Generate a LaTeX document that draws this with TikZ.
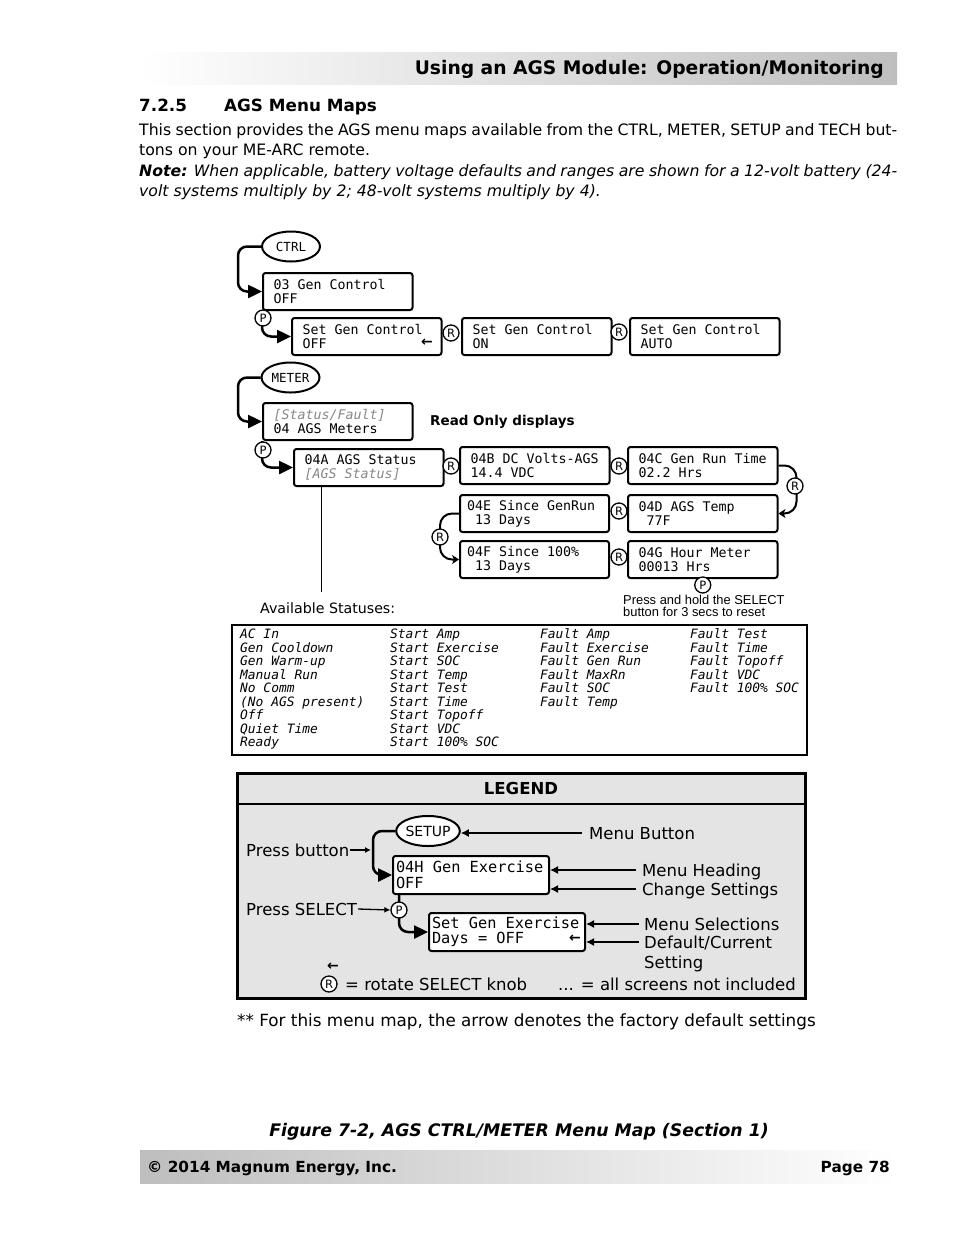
\documentclass[tikz,border=0pt]{standalone}
\usepackage{fontspec}
\setmainfont{DejaVu Sans}
\newfontfamily\menufont{DejaVu Sans Mono}
\newfontfamily\notefont{Liberation Sans}
\usetikzlibrary{positioning,arrows.meta,shapes.geometric,calc}
\definecolor{bargray}{RGB}{190,190,190}
\definecolor{legendgray}{RGB}{228,228,228}
\definecolor{dimtext}{RGB}{135,135,135}
\tikzset{
  menubox/.style={draw, line width=2pt, rounded corners=2.5pt, fill=white, anchor=north west,
    minimum width=149pt, minimum height=37pt, inner xsep=10.5pt, inner ysep=0pt,
    text width=128.5pt, align=flush left, font=\menufont\fontsize{13.3}{14}\selectfont,
    execute at begin node={\spaceskip=0pt\xspaceskip=0pt}},
  legendbox/.style={menubox, minimum width=156pt, minimum height=38pt, inner xsep=3pt,
    text width=150pt, font=\menufont\fontsize{15.3}{15.5}\selectfont},
  menubutton/.style={ellipse, draw, line width=2pt, fill=white, inner sep=0pt,
    minimum width=58pt, minimum height=30pt, font=\menufont\fontsize{12.5}{13}\selectfont},
  knob/.style={circle, draw, line width=1.3pt, fill=white, inner sep=0pt, minimum size=16pt,
    font=\fontsize{11.5}{11.5}\selectfont},
  menuflow/.style={line width=2.5pt, rounded corners=9pt, -{Triangle[length=14pt,width=13pt]}},
  knobflow/.style={line width=2pt, rounded corners=12pt, -{Stealth[length=7pt,width=9pt,inset=2pt]}},
  callout/.style={line width=1.4pt, -{Latex[length=8pt,width=8pt]}},
  smallcallout/.style={line width=1.3pt, -{Latex[length=6pt,width=6pt]}},
  status/.style={anchor=base west, inner sep=0pt, font=\menufont\itshape\fontsize{12.9}{13}\selectfont},
  lbl/.style={anchor=base west, inner sep=1pt, text height=12pt, text depth=0pt,
    font=\fontsize{16.5}{18}\selectfont},
  bodytext/.style={anchor=base west, inner sep=0pt, font=\fontsize{15.7}{19}\selectfont},
  defmark/.style={inner sep=0pt, font=\bfseries\fontsize{14}{14}\selectfont},
}

\begin{document}
\begin{tikzpicture}[x=1pt,y=-1pt]
  \fill[white] (0,0) rectangle (954,1235);
  \useasboundingbox (0,0) rectangle (954,1235);

  % page head
  \shade[left color=white, right color=bargray] (140,52) rectangle (897,84);
  \node[anchor=base east, inner sep=0pt, font=\bfseries\fontsize{18.7}{22}\selectfont] (pagehead) at (884,74) {Using an AGS Module: Operation/Monitoring};
  \node[anchor=base west, inner sep=0pt, font=\bfseries\fontsize{16.8}{20}\selectfont] (secnum) at (139,111) {7.2.5};
  \node[anchor=base west, inner sep=0pt, font=\bfseries\fontsize{16.8}{20}\selectfont] (sectitle) at (224,111) {AGS Menu Maps};
  \node[bodytext] (intro1) at (139,135) {\makebox[758pt][s]{This section provides the AGS menu maps available from the CTRL, METER, SETUP and TECH but-}};
  \node[bodytext] (intro2) at (139,155) {tons on your ME-ARC remote.};
  \node[bodytext] (note1) at (139,176) {\makebox[758pt][s]{\textbf{\textit{Note:}} \textit{When applicable, battery voltage defaults and ranges are shown for a 12-volt battery (24-}}};
  \node[bodytext] (note2) at (139,196) {\textit{volt systems multiply by 2; 48-volt systems multiply by 4).}};

  % CTRL menu
  \node[menubutton] (ctrl) at (291,246.5) {CTRL};
  \node[menubox] (g03) at (262,272) {03 Gen Control\\OFF};
  \node[menubox] (sgcoff) at (291,317) {Set Gen Control\\OFF};
  \node[menubox] (sgcon) at (461,317) {Set Gen Control\\ON};
  \node[menubox] (sgcauto) at (629,317) {Set Gen Control\\AUTO};
  \node[defmark] (defoff) at (427,343) {←};
  \draw[menuflow] (ctrl.west) -| ([xshift=-24pt]g03.west) -- (g03.west);
  \draw[menuflow] (g03.south west) |- (sgcoff.west);
  \node[knob] (p03) at (263,318) {P};
  \node[knob] (r1) at (451,333) {R};
  \node[knob] (r2) at (619,332) {R};

  % METER menu
  \node[menubutton] (meter) at (290.5,377.5) {METER};
  \node[menubox] (g04) at (262,402) {{\color{dimtext}\itshape [Status/Fault]}\\04 AGS Meters};
  \node[anchor=base west, inner sep=0pt, font=\bfseries\fontsize{13.5}{16}\selectfont] (readonly) at (430,425) {Read Only displays};
  \node[menubox] (g04a) at (293,448) {04A AGS Status\\{\color{dimtext}\itshape [AGS Status]}};
  \node[menubox] (g04b) at (459,446) {04B DC Volts-AGS\\14.4 VDC};
  \node[menubox] (g04c) at (627,446) {04C Gen Run Time\\02.2 Hrs};
  \node[menubox] (g04d) at (627,494) {04D AGS Temp\\\hphantom{0}77F};
  \node[menubox, inner xsep=7pt, text width=135pt] (g04e) at (459,494) {04E Since GenRun\\\hphantom{0}13 Days};
  \node[menubox, inner xsep=7pt, text width=135pt] (g04f) at (459,540) {04F Since 100\%\\\hphantom{0}13 Days};
  \node[menubox] (g04g) at (627,540) {04G Hour Meter\\00013 Hrs};
  \draw[menuflow] (meter.west) -| ([xshift=-24pt]g04.west) -- (g04.west);
  \draw[menuflow] (g04.south west) |- (g04a.west);
  \draw[knobflow] (g04c.east) -| ([xshift=18pt]g04d.east) -- (g04d.east);
  \draw[knobflow] (g04e.west) -| ([xshift=-19pt]g04f.west) -- (g04f.west);
  \coordinate (statusend) at (321,592);
  \draw[line width=1pt] (g04a.south -| statusend) -- (statusend);
  \node[knob] (p04) at (263,450) {P};
  \node[knob] (r3) at (451,466) {R};
  \node[knob] (r4) at (619,466) {R};
  \node[knob] (r5) at (795,486) {R};
  \node[knob] (r6) at (619,511) {R};
  \node[knob] (r7) at (440,537) {R};
  \node[knob] (r8) at (619,557) {R};
  \node[knob] (p04g) at ([yshift=-6pt]g04g.south) {P};
  \node[anchor=base west, inner sep=0pt, font=\notefont\fontsize{12.9}{12}\selectfont] (holdnote1) at (623,604) {Press and hold the SELECT};
  \node[anchor=base west, inner sep=0pt, font=\notefont\fontsize{12.9}{12}\selectfont] (holdnote2) at (623,616) {button for 3 secs to reset};

  % available statuses
  \node[anchor=base west, inner sep=0pt, font=\fontsize{14.2}{16}\selectfont] (avail) at (260,613) {Available Statuses:};
  \draw[line width=1.5pt] (232,625) rectangle (807,755);
  \foreach \txt [count=\i] in {AC In, Gen Cooldown, Gen Warm-up, Manual Run, No Comm, (No AGS present), Off, Quiet Time, Ready}
    \node[status] (sa\i) at (240,{638.7+13.5*(\i-1)}) {\txt};
  \foreach \txt [count=\i] in {Start Amp, Start Exercise, Start SOC, Start Temp, Start Test, Start Time, Start Topoff, Start VDC, Start 100\% SOC}
    \node[status] (sb\i) at (390,{638.7+13.5*(\i-1)}) {\txt};
  \foreach \txt [count=\i] in {Fault Amp, Fault Exercise, Fault Gen Run, Fault MaxRn, Fault SOC, Fault Temp}
    \node[status] (sc\i) at (540,{638.7+13.5*(\i-1)}) {\txt};
  \foreach \txt [count=\i] in {Fault Test, Fault Time, Fault Topoff, Fault VDC, Fault 100\% SOC}
    \node[status] (sd\i) at (690,{638.7+13.5*(\i-1)}) {\txt};

  % legend
  \draw[line width=3pt, fill=legendgray] (237,773) rectangle (805,998);
  \draw[line width=2pt] (237,804) -- (805,804);
  \node[inner sep=0pt, font=\bfseries\fontsize{16.5}{18}\selectfont] (legendhead) at (521,788) {LEGEND};
  \node[menubutton, minimum width=62pt, font=\fontsize{14}{14}\selectfont] (setup) at (428,831) {SETUP};
  \node[legendbox] (g04h) at (392,855) {04H Gen Exercise\\OFF};
  \node[legendbox] (sge) at (428,912) {Set Gen Exercise\\Days = OFF};
  \node[defmark] (defsge) at (575,939) {←};
  \draw[menuflow] (setup.west) -| ([xshift=-19pt]g04h.west) -- (g04h.west);
  \draw[menuflow] ([xshift=7pt]g04h.south west) |- (sge.west);
  \node[knob] (pleg) at (399,910) {P};
  \coordinate (presstip) at ([xshift=-21pt]g04h.west);

  \node[lbl] (lbbtn) at (588,839) {Menu Button};
  \node[lbl] (lbhead) at (641,876) {Menu Heading};
  \node[lbl] (lbchange) at (641,895) {Change Settings};
  \node[lbl] (lbsel) at (643,930) {Menu Selections};
  \node[lbl] (lbdef) at (643,948) {Default/Current};
  \node[lbl] (lbsetting) at (643,968) {Setting};
  \node[lbl] (lbpress) at (245,856) {Press button};
  \node[lbl] (lbselect) at (245,915) {Press SELECT};
  \draw[callout] ([xshift=-6pt]lbbtn.west) -- (lbbtn.west -| setup.east);
  \draw[callout] ([xshift=-5pt]lbhead.west) -- (lbhead.west -| g04h.east);
  \draw[callout] ([xshift=-5pt]lbchange.west) -- (lbchange.west -| g04h.east);
  \draw[callout] ([xshift=-4pt]lbsel.west) -- (lbsel.west -| sge.east);
  \draw[callout] ([xshift=-4pt]lbdef.west) -- (lbdef.west -| sge.east);
  \draw[smallcallout] (lbpress.east) -- (lbpress.east -| presstip);
  \draw[smallcallout] (lbselect.east) -- (pleg.west);

  \node[defmark] (defkey) at (333,967) {←};
  \node[knob] (rleg) at (329,984) {R};
  \node[lbl] (rotkey) at (344,990) {= rotate SELECT knob};
  \node[lbl] (dotkey) at (557,990) {... = all screens not included};

  % page foot
  \node[bodytext, font=\fontsize{16.8}{19}\selectfont] (defaultnote) at (237,1026) {** For this menu map, the arrow denotes the factory default settings};
  \node[anchor=base, inner sep=0pt, font=\bfseries\itshape\fontsize{17.3}{20}\selectfont] (caption) at (519,1136) {Figure 7-2, AGS CTRL/METER Menu Map (Section 1)};
  \shade[left color=bargray, right color=white] (140,1150) rectangle (897,1183);
  \node[anchor=base west, inner sep=0pt, font=\bfseries\fontsize{15.3}{18}\selectfont] (copyright) at (147,1172) {© 2014 Magnum Energy, Inc.};
  \node[anchor=base east, inner sep=0pt, font=\bfseries\fontsize{15.3}{18}\selectfont] (pageno) at (890,1172) {Page 78};
\end{tikzpicture}
\end{document}
